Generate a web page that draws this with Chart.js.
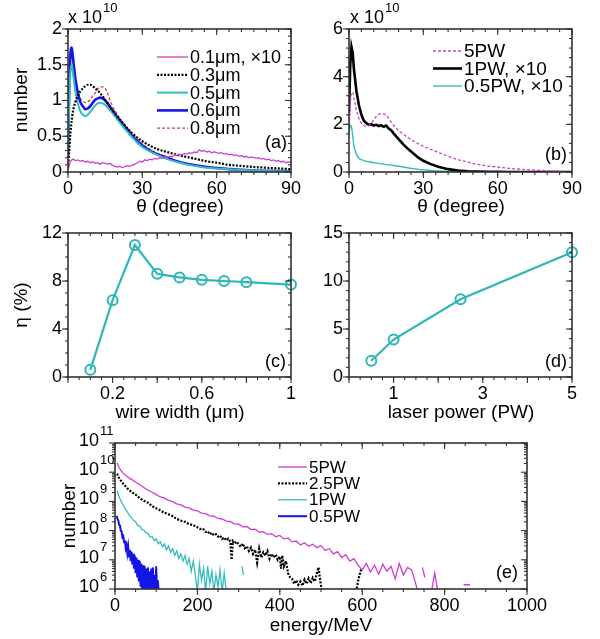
<!DOCTYPE html>
<html>
<head>
<meta charset="utf-8">
<script src="https://cdn.jsdelivr.net/npm/chart.js@4.4.1/dist/chart.umd.min.js"></script>
<style>
  html, body { margin: 0; padding: 0; background: #fff; }
  #wrap { position: relative; width: 600px; height: 639px; }
  #wrap canvas { position: absolute; left: 0; top: 0; }
</style>
</head>
<body>
<div id="wrap">
  <canvas id="pa" width="600" height="639"></canvas>
  <canvas id="pb" width="600" height="639"></canvas>
  <canvas id="pc" width="600" height="639"></canvas>
  <canvas id="pd" width="600" height="639"></canvas>
  <canvas id="pe" width="600" height="639"></canvas>
</div>
<script>
// ---- data (a), (b): angular distributions, units of 1e10 ----
const thetaA = [0,0.5,1,1.5,2,3,4,5,6,7,8,9,10,11,12,13,14,15,16,17,18,20,22,24,26,28,30,33,36,40,44,48,52,56,60,65,70,75,80,85,90];
const thetaMag = [0,1,2,3,4,5,6,7,8,9,10,11,12,13,14,15,16,17,18,19,20,21,22,23,24,25,26,27,28,29,30,
  31,32,33,34,35,36,37,38,39,40,41,42,43,44,45,46,47,48,49,50,51,52,53,54,55,56,57,58,59,60,
  61,62,63,64,65,66,67,68,69,70,71,72,73,74,75,76,77,78,79,80,81,82,83,84,85,86,87,88,89,90];
const w01x10 = [0.04,0.15,0.18,0.16,0.17,0.15,0.16,0.14,0.15,0.13,0.14,0.12,0.13,0.11,0.13,0.12,0.11,0.12,0.09,0.08,0.07,
  0.08,0.06,0.08,0.09,0.08,0.1,0.11,0.13,0.15,0.14,0.17,0.16,0.18,0.17,0.19,0.18,0.2,0.19,0.21,0.2,
  0.22,0.21,0.24,0.23,0.25,0.24,0.26,0.25,0.27,0.26,0.28,0.27,0.31,0.29,0.3,0.28,0.29,0.27,0.28,0.27,
  0.26,0.27,0.25,0.26,0.24,0.25,0.23,0.24,0.22,0.23,0.21,0.22,0.2,0.21,0.2,0.19,0.2,0.18,0.19,0.17,
  0.18,0.16,0.17,0.15,0.16,0.14,0.15,0.13,0.14,0.13];
const w03 = [0.05,0.3,0.55,0.72,0.85,0.98,1.07,1.13,1.17,1.2,1.22,1.22,1.2,1.17,1.14,1.1,1.06,1.01,0.96,0.91,0.86,0.77,0.69,0.61,0.54,0.48,0.43,0.37,0.32,0.28,0.24,0.21,0.18,0.15,0.13,0.1,0.085,0.07,0.06,0.05,0.04];
const w05 = [0.3,1.0,1.42,1.5,1.38,1.12,0.95,0.85,0.8,0.78,0.8,0.84,0.89,0.93,0.96,0.97,0.96,0.94,0.9,0.86,0.82,0.73,0.64,0.56,0.48,0.41,0.35,0.29,0.24,0.18,0.14,0.105,0.08,0.06,0.05,0.037,0.027,0.02,0.015,0.011,0.008];
const w06 = [0.2,1.2,1.65,1.74,1.6,1.3,1.1,0.98,0.92,0.88,0.89,0.92,0.97,1.01,1.03,1.04,1.03,1.0,0.96,0.91,0.86,0.76,0.67,0.59,0.5,0.43,0.37,0.3,0.25,0.2,0.15,0.115,0.09,0.07,0.055,0.04,0.03,0.022,0.016,0.012,0.01];
const w08 = [0.25,1.1,1.55,1.65,1.55,1.3,1.12,1.03,0.99,0.97,0.98,1.01,1.06,1.11,1.16,1.19,1.19,1.17,1.1,1.0,0.92,0.8,0.7,0.61,0.53,0.46,0.39,0.32,0.26,0.2,0.15,0.115,0.09,0.07,0.055,0.04,0.03,0.022,0.016,0.012,0.01];

const pw5 = [1.5,2.8,3.3,3.35,3.1,2.6,2.25,2.05,1.95,1.92,1.95,2.05,2.2,2.33,2.42,2.45,2.43,2.38,2.25,2.1,1.95,1.75,1.58,1.43,1.3,1.18,1.08,0.95,0.82,0.66,0.52,0.41,0.32,0.25,0.21,0.15,0.11,0.08,0.05,0.03,0.02];
const pw1x10 = [2.5,4.5,5.25,5.0,4.3,3.4,2.8,2.4,2.15,2.05,1.98,2.0,1.95,1.98,1.93,1.96,1.9,1.95,1.82,1.75,1.62,1.38,1.15,0.95,0.78,0.6,0.47,0.33,0.22,0.12,0.06,0.03,0.015,0.008,0.005,0.003,0.002,0.002,0.001,0.001,0.001];
const pw05x10 = [1.6,1.95,1.9,1.5,1.1,0.75,0.58,0.52,0.48,0.45,0.43,0.41,0.39,0.37,0.36,0.34,0.33,0.31,0.3,0.29,0.27,0.24,0.21,0.17,0.14,0.11,0.09,0.065,0.04,0.02,0.01,0.005,0.003,0.002,0.001,0.001,0.001,0.001,0.001,0.001,0.001];

// ---- data (c), (d): conversion efficiency ----
const wireWidth = [0.1,0.2,0.3,0.4,0.5,0.6,0.7,0.8,1.0];
const etaWire = [0.6,6.4,11.0,8.6,8.3,8.1,8.0,7.9,7.7];
const laserPower = [0.5,1,2.5,5];
const etaPower = [1.7,3.9,8.1,13.0];

// ---- data (e): energy spectra ----
const eMag = [5,10,15,20,30,40,50,60,70,80,
  90,100,110,120,130,140,150,160,170,180,
  190,200,210,220,230,240,250,260,270,280,
  290,300,310,320,330,340,350,360,370,380,
  390,400,410,420,430,440,450,460,470,480,
  490,500,510,520,530,540,550,560,570,580,
  590,600,610,620,630,640,650,660,670,680,
  690,700,710,720,730,735,740,746,752,756,
  768,776,784,790,846,862];
const vMag = [2.1e10,1.45e10,1.12e10,9.3e9,7.0e9,5.7e9,4.6e9,3.7e9,3.0e9,2.45e9,
  2.05e9,1.7e9,1.42e9,1.3e9,1.08e9,9.8e8,8.2e8,7.6e8,6.4e8,6.0e8,
  5.0e8,4.7e8,4.0e8,3.8e8,3.2e8,3.1e8,2.6e8,2.5e8,2.1e8,2.05e8,
  1.7e8,1.65e8,1.35e8,1.38e8,1.08e8,1.12e8,8.8e7,9.2e7,7.4e7,7.9e7,
  6.2e7,6.8e7,5.2e7,5.6e7,4.1e7,4.4e7,3.2e7,3.8e7,2.9e7,3.4e7,
  2.6e7,3.1e7,2.1e7,2.4e7,1.6e7,1.9e7,1.2e7,1.5e7,9e6,1.1e7,
  6.5e6,4.5e6,7.5e6,3.8e6,6.5e6,3.2e6,7e6,4e6,6e6,2.2e6,
  7.5e6,3e6,5.5e6,4.5e6,1.5e6,8e5,null,5.5e6,2.5e6,null,
  8e5,3.5e6,8e5,null,1.4e6,1.4e6];
const eBlk = [5,10,15,20,30,40,50,60,70,80,
  90,100,110,120,130,140,150,160,170,180,
  190,200,205,210,215,220,225,230,235,240,
  245,250,255,260,265,270,275,280,283,286,
  290,295,300,305,310,315,320,325,330,335,
  340,345,350,355,360,365,370,375,380,385,
  390,395,400,403,406,410,415,420,425,430,
  435,440,445,450,455,460,465,470,475,480,
  485,490,494,498,502,506,585,592,598];
const vBlk = [8.9e9,6.3e9,5.0e9,4.0e9,2.8e9,2.1e9,1.7e9,1.3e9,1.05e9,9.0e8,
  6.9e8,5.8e8,4.9e8,4.1e8,3.6e8,3.1e8,2.5e8,2.2e8,2.0e8,1.65e8,
  1.55e8,1.3e8,1.2e8,1.05e8,1.1e8,9e7,9.5e7,7.5e7,8.5e7,6.8e7,
  7.5e7,6.2e7,6.8e7,5.2e7,5.8e7,4.6e7,5.3e7,4.2e7,1.0e7,4.3e7,
  3.6e7,4.2e7,3.4e7,2.8e7,3.6e7,2.5e7,2.9e7,2.0e7,2.6e7,1.6e7,
  2.2e7,8e6,2.4e7,1.2e7,1.8e7,1.4e7,2.0e7,1.1e7,1.6e7,1.2e7,
  1.5e7,1.0e7,1.3e7,5e6,1.4e7,6e6,9e6,3.5e6,2.5e6,2.2e6,
  1.5e6,2.0e6,1.4e6,1.8e6,1.3e6,2.1e6,1.5e6,2.3e6,1.6e6,2.4e6,
  1.8e6,3.5e6,5.5e6,2.0e6,8e5,null,8e5,2.5e6,5e6];
const eCyn = [5,10,15,20,25,30,35,40,45,50,
  55,60,65,70,75,80,85,90,95,100,
  105,110,115,120,125,130,135,140,145,150,
  155,160,165,170,175,180,185,190,195,200,
  205,210,215,220,225,230,235,240,245,250,
  255,260,265,270,275,308,312];
const vCyn = [2.3e9,1.45e9,1.0e9,7.5e8,5.5e8,4.4e8,3.3e8,2.8e8,2.2e8,2.0e8,
  1.5e8,1.45e8,1.1e8,1.05e8,8.5e7,8.0e7,6.0e7,6.2e7,4.5e7,5.2e7,
  3.5e7,4.2e7,2.8e7,3.5e7,2.2e7,3.0e7,1.8e7,2.4e7,1.4e7,2.0e7,
  1.1e7,1.6e7,9e6,1.4e7,7e6,1.1e7,4e6,9e6,3e6,8e5,
  7e6,2e6,5e6,8e5,6e6,1.5e6,4e6,8e5,3e6,1.2e6,
  4.5e6,8e5,3.5e6,8e5,null,6e6,3e6];
const eBlu = [4,6,8,10,12,14,16,18,20,22,
  24,26,28,30,32,34,36,38,40,42,
  44,46,48,50,52,54,56,58,60,62,
  64,66,68,70,72,74,76,78,80,82,
  84,86,88,90,92,94,96,98,100,102,104,106];
const vBlu = [3.2e8,2.5e8,2.2e8,1.6e8,1.5e8,1.0e8,9.5e7,6.0e7,6.5e7,4.0e7,
  4.5e7,2.5e7,3.2e7,1.7e7,2.8e7,1.3e7,2.2e7,9e6,1.9e7,7e6,
  1.6e7,5e6,1.4e7,3.5e6,1.2e7,2.5e6,1.0e7,1.8e6,9e6,1.2e6,
  7.5e6,9e5,6.5e6,8e5,6e6,8e5,5e6,8e5,5.5e6,8e5,
  4e6,8e5,5e6,8e5,5.5e6,8e5,3e6,8e5,6e6,8e5,2e6,8e5];

const MAG = '#d23cd2', CYAN = '#36bcbc', BLUE = '#1414e6', RED = '#c84848', TEAL = '#2fb6b6';
const FONT = '"Liberation Sans", Arial, Helvetica, sans-serif';
Chart.defaults.font.family = FONT;
Chart.defaults.color = '#000';

function range(a, b, s) {
  const r = [];
  for (let v = a; v <= b + 1e-9; v += s) r.push(+v.toFixed(6));
  return r;
}
function pts(xs, ys) { return xs.map((x, i) => ({ x: x, y: ys[i] })); }

// frame, mirrored ticks, tick labels, titles, legend, panel tag
const decoPlugin = {
  id: 'deco',
  afterDatasetsDraw(chart, args, o) {
    const c = chart.ctx, a = chart.chartArea, xs = chart.scales.x, ys = chart.scales.y;
    c.save();
    c.setLineDash([]);
    c.strokeStyle = '#333';
    c.lineWidth = 1.1;
    const seg = (x1, y1, x2, y2) => { c.beginPath(); c.moveTo(x1, y1); c.lineTo(x2, y2); c.stroke(); };
    const xt = (vals, len) => vals.forEach(v => {
      const p = xs.getPixelForValue(v);
      seg(p, a.bottom, p, a.bottom + len);
      seg(p, a.top, p, a.top + len);
    });
    const yt = (vals, len) => vals.forEach(v => {
      const p = ys.getPixelForValue(v);
      seg(a.left - len, p, a.left, p);
      seg(a.right - len, p, a.right, p);
    });
    xt(o.xMinor, 3); xt(o.xMajor, 6);
    yt(o.yMinor, 3); yt(o.yMajor, 6);
    c.lineWidth = 1.6;
    c.strokeRect(a.left, a.top, a.right - a.left, a.bottom - a.top);

    c.fillStyle = '#000';
    c.textBaseline = 'middle';
    c.font = '18px ' + FONT;
    c.textAlign = 'center';
    o.xLab.forEach(v => c.fillText(String(v), xs.getPixelForValue(v), a.bottom + 17));
    if (o.yLab) {
      c.textAlign = 'right';
      o.yLab.forEach(v => c.fillText(String(v), a.left - 6, ys.getPixelForValue(v)));
    }
    if (o.logLab) {
      for (let n = 6; n <= 11; n++) {
        const p = ys.getPixelForValue(Math.pow(10, n));
        c.font = '18px ' + FONT;
        c.textAlign = 'right';
        c.fillText('10', a.left - 16, p - 2);
        c.font = '13px ' + FONT;
        c.textAlign = 'left';
        c.fillText(String(n), a.left - 15, p - 12);
      }
    }
    c.font = '19px ' + FONT;
    if (o.xTitle) {
      c.textAlign = 'center';
      c.fillText(o.xTitle[0], o.xTitle[1], o.xTitle[2]);
    }
    if (o.yTitle) {
      c.save();
      c.translate(o.yTitle[1], o.yTitle[2]);
      c.rotate(-Math.PI / 2);
      c.textAlign = 'center';
      c.fillText(o.yTitle[0], 0, 0);
      c.restore();
    }
    if (o.exp) {
      c.font = '18px ' + FONT;
      c.textAlign = 'left';
      c.fillText('x 10', o.exp[0], o.exp[1]);
      const w = c.measureText('x 10').width;
      c.font = '13px ' + FONT;
      c.fillText('10', o.exp[0] + w + 1, o.exp[1] - 10);
    }
    if (o.tag) {
      c.font = '18px ' + FONT;
      c.textAlign = 'right';
      c.fillText(o.tag[0], o.tag[1], o.tag[2]);
    }
    if (o.leg) {
      const [lx, ly, dy, len, fs] = o.leg;
      c.font = fs + 'px ' + FONT;
      c.textAlign = 'left';
      chart.data.datasets.forEach((ds, i) => {
        const y = ly + i * dy;
        c.strokeStyle = ds.borderColor;
        c.lineWidth = ds.borderWidth;
        c.setLineDash(ds.borderDash || []);
        seg(lx, y, lx + len, y);
        c.fillText(ds.label, lx + len + 2, y + 1);
      });
      c.setLineDash([]);
    }
    c.restore();
  }
};

function makePanel(id, area, sx, sy, datasets, deco) {
  const axis = (extra, fit) => Object.assign({
    type: 'linear',
    grid: { display: false, drawTicks: false },
    border: { display: false },
    ticks: { display: false },
    afterFit: fit
  }, extra);
  new Chart(document.getElementById(id), {
    type: 'line',
    data: { datasets: datasets },
    options: {
      responsive: false,
      animation: false,
      layout: { padding: { left: area[0] - 50, top: area[1], right: 600 - area[2], bottom: 639 - area[3] - 30 } },
      plugins: { legend: { display: false }, tooltip: { enabled: false }, deco: deco },
      elements: { point: { radius: 0 }, line: { tension: 0 } },
      scales: {
        x: axis(sx, s => { s.height = 30; }),
        y: axis(sy, s => { s.width = 50; })
      }
    },
    plugins: [decoPlugin]
  });
}

// (a)
makePanel('pa', [68, 29, 291, 172],
  { min: 0, max: 90 },
  { min: 0, max: 2 },
  [
    { label: '0.1\u03bcm, \u00d710', data: pts(thetaMag, w01x10), borderColor: MAG, borderWidth: 1.3 },
    { label: '0.3\u03bcm', data: pts(thetaA, w03), borderColor: '#000', borderWidth: 2.2, borderDash: [2, 1.5], cubicInterpolationMode: 'monotone' },
    { label: '0.5\u03bcm', data: pts(thetaA, w05), borderColor: CYAN, borderWidth: 2, cubicInterpolationMode: 'monotone' },
    { label: '0.6\u03bcm', data: pts(thetaA, w06), borderColor: BLUE, borderWidth: 2.6, cubicInterpolationMode: 'monotone' },
    { label: '0.8\u03bcm', data: pts(thetaA, w08), borderColor: RED, borderWidth: 1.3, borderDash: [3, 2], cubicInterpolationMode: 'monotone' }
  ],
  {
    xMajor: [0, 30, 60, 90], xMinor: range(0, 90, 5), xLab: [0, 30, 60, 90],
    yMajor: [0, 0.5, 1, 1.5, 2], yMinor: range(0, 2, 0.1), yLab: [0, 0.5, 1, 1.5, 2],
    xTitle: ['\u03b8 (degree)', 180, 207], yTitle: ['number', 22, 100],
    exp: [68, 18], tag: ['(a)', 287, 143], leg: [157, 57, 17.8, 31, 18]
  });

// (b)
makePanel('pb', [349, 29, 572, 172],
  { min: 0, max: 90 },
  { min: 0, max: 6 },
  [
    { label: '5PW', data: pts(thetaA, pw5), borderColor: MAG, borderWidth: 1.3, borderDash: [3, 2], cubicInterpolationMode: 'monotone' },
    { label: '1PW, \u00d710', data: pts(thetaA, pw1x10), borderColor: '#000', borderWidth: 2.6 },
    { label: '0.5PW, \u00d710', data: pts(thetaA, pw05x10), borderColor: CYAN, borderWidth: 1.4, cubicInterpolationMode: 'monotone' }
  ],
  {
    xMajor: [0, 30, 60, 90], xMinor: range(0, 90, 5), xLab: [0, 30, 60, 90],
    yMajor: [0, 2, 4, 6], yMinor: range(0, 6, 0.4), yLab: [0, 2, 4, 6],
    xTitle: ['\u03b8 (degree)', 461, 207],
    exp: [350, 18], tag: ['(b)', 567, 155], leg: [433, 51, 17.5, 29, 19]
  });

// (c)
makePanel('pc', [68, 233, 291, 377],
  { min: 0, max: 1 },
  { min: 0, max: 12 },
  [
    { label: 'wire', data: pts(wireWidth, etaWire), borderColor: TEAL, borderWidth: 2.2, clip: false,
      pointRadius: 5, pointBorderWidth: 2, pointBorderColor: TEAL, pointBackgroundColor: 'rgba(0,0,0,0)' }
  ],
  {
    xMajor: range(0, 1, 0.2), xMinor: range(0, 1, 0.05), xLab: [0.2, 0.6, 1],
    yMajor: [0, 4, 8, 12], yMinor: range(0, 12, 1), yLab: [0, 4, 8, 12],
    xTitle: ['wire width (\u03bcm)', 180, 413], yTitle: ['\u03b7 (%)', 22, 305],
    tag: ['(c)', 286, 362]
  });

// (d)
makePanel('pd', [349, 233, 572, 377],
  { min: 0, max: 5 },
  { min: 0, max: 15 },
  [
    { label: 'power', data: pts(laserPower, etaPower), borderColor: TEAL, borderWidth: 2.2, clip: false,
      pointRadius: 5, pointBorderWidth: 2, pointBorderColor: TEAL, pointBackgroundColor: 'rgba(0,0,0,0)' }
  ],
  {
    xMajor: range(0, 5, 1), xMinor: range(0, 5, 0.25), xLab: [1, 3, 5],
    yMajor: [0, 5, 10, 15], yMinor: range(0, 15, 1), yLab: [0, 5, 10, 15],
    xTitle: ['laser power (PW)', 461, 413],
    tag: ['(d)', 567, 362]
  });

// (e)
const logMinor = [];
for (let n = 6; n < 11; n++) for (let k = 2; k <= 9; k++) logMinor.push(k * Math.pow(10, n));
makePanel('pe', [115, 443, 527, 589],
  { min: 0, max: 1000 },
  { type: 'logarithmic', min: 1e6, max: 1e11 },
  [
    { label: '5PW', data: pts(eMag, vMag), borderColor: MAG, borderWidth: 1.3 },
    { label: '2.5PW', data: pts(eBlk, vBlk), borderColor: '#000', borderWidth: 2.2, borderDash: [2, 1.5] },
    { label: '1PW', data: pts(eCyn, vCyn), borderColor: CYAN, borderWidth: 1.3 },
    { label: '0.5PW', data: pts(eBlu, vBlu), borderColor: BLUE, borderWidth: 2 }
  ],
  {
    xMajor: range(0, 1000, 200), xMinor: range(0, 1000, 50), xLab: [0, 200, 400, 600, 800, 1000],
    yMajor: [1e6, 1e7, 1e8, 1e9, 1e10, 1e11], yMinor: logMinor,
    xTitle: ['energy/MeV', 321, 626], yTitle: ['number', 70, 516],
    logLab: true, tag: ['(e)', 518, 573], leg: [278, 467, 16.4, 29, 17]
  });
</script>
</body>
</html>
